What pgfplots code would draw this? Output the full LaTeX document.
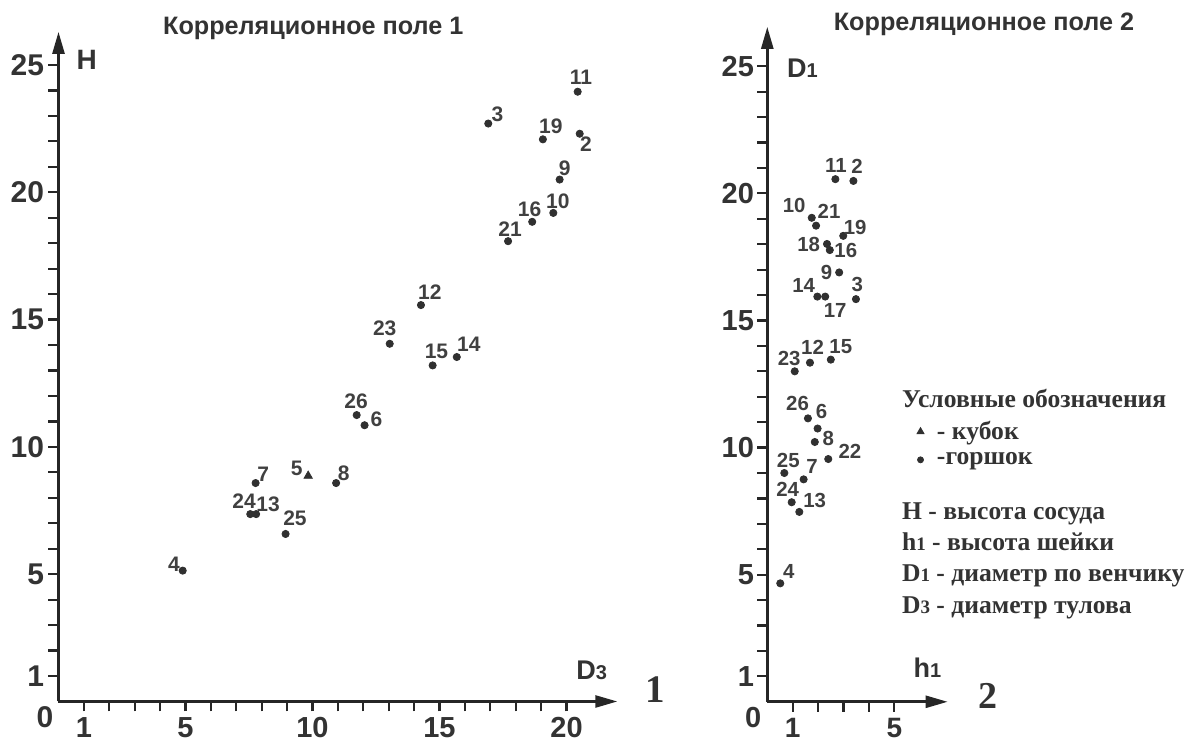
\documentclass[border=0pt]{standalone}
\usepackage{fontspec}
\setmainfont{Liberation Sans}
\newfontfamily\Sserif{Liberation Serif}
\usepackage{pgfplots}
\pgfplotsset{compat=1.18}
\usepackage{pgfplotstable}
\usetikzlibrary{arrows.meta}
\definecolor{axcol}{HTML}{262626}
\definecolor{txt}{HTML}{333333}
\definecolor{lbl}{HTML}{404040}
\definecolor{ptcol}{HTML}{303030}

\pgfplotstableread{
x y lab dx dy
20.44 23.95 11 1.6 7.2
16.92 22.70 3 4.6 4.6
19.07 22.08 19 4.0 6.5
20.52 22.30 2 3.1 -5.2
19.73 20.50 9 2.5 5.8
19.48 19.19 10 2.3 5.7
18.65 18.84 16 -1.3 6.2
17.70 18.08 21 1.0 6.2
14.27 15.57 12 4.4 6.7
13.04 14.05 23 -2.5 7.5
14.73 13.20 15 1.9 7.0
15.68 13.53 14 6.0 6.2
11.74 11.25 26 -0.3 6.7
12.05 10.85 6 6.0 2.8
10.93 8.58 8 3.8 5.0
7.76 8.58 7 3.8 4.2
7.55 7.36 24 -3.1 6.3
7.78 7.36 13 6.0 4.7
8.94 6.58 25 4.7 8.0
4.89 5.14 4 -4.4 3.3
}\potsA

\pgfplotstableread{
x y lab dx dy
9.83 8.86 5 -5.7 3.8
}\cupsA

\pgfplotstableread{
x y lab dx dy
2.68 20.56 11 0.3 6.8
3.39 20.49 2 1.8 7.3
1.75 19.04 10 -8.8 6.0
1.92 18.73 21 6.5 7.3
2.99 18.33 19 6.0 4.0
2.35 18.01 18 -9.2 -0.2
2.46 17.77 16 8.0 -0.3
2.83 16.89 9 -6.3 0.2
1.97 15.94 14 -6.8 5.7
2.28 15.94 17 5.0 -7.0
3.49 15.84 3 0.7 7.3
1.08 13.00 23 -2.8 6.3
1.68 13.34 12 1.3 7.8
2.50 13.46 15 5.0 6.3
1.60 11.15 26 -5.2 7.2
1.98 10.75 6 2.0 8.3
1.87 10.22 8 6.8 1.8
2.40 9.55 22 10.8 3.7
0.67 9.00 25 2.0 6.5
1.43 8.75 7 4.2 6.3
0.96 7.85 24 -2.0 6.5
1.26 7.47 13 7.7 5.5
0.51 4.66 4 4.3 5.8
}\potsB

\pgfplotsset{
  corr/.style={
    axis lines=left,
    ymin=0,
    clip=false,
    axis line style={line width=1.3pt, draw=axcol, -{Triangle[length=11pt,width=6pt]}},
    tick align=outside,
    major tick length=5pt, minor tick length=5pt,
    every tick/.style={line width=1.1pt, draw=axcol},
    ytick={1,5,10,15,20,25},
    yticklabels={1,5,10,15,20,25},
    minor ytick={2,3,4,6,7,8,9,11,12,13,14,16,17,18,19,21,22,23,24},
    /pgf/number format/assume math mode=true,
    tick label style={text=txt, inner sep=0pt},
    every node near coord/.append style={anchor=center, inner sep=0pt, text=lbl,
      xshift=\dx*1pt, yshift=\dy*1pt},
  },
  lbls/.style={
    nodes near coords, point meta=explicit symbolic,
    visualization depends on={\thisrow{dx} \as \dx},
    visualization depends on={\thisrow{dy} \as \dy},
  },
}

\begin{document}
\begin{tikzpicture}
\useasboundingbox (0,0) rectangle (594.5pt,371pt);

% ---------------- field 1 ----------------
\begin{axis}[corr,
  at={(29.25pt,20.25pt)}, anchor=origin,
  x=12.7pt, y=12.73pt, xmin=0, xmax=22.0, ymax=26.3,
  xtick={1,5,10,15,20}, xticklabels={1,5,10,15,20},
  minor xtick={2,3,4,6,7,8,9,11,12,13,14,16,17,18,19},
  tick label style={font=\bfseries\fontsize{15}{15}\selectfont},
  xticklabel style={anchor=north, yshift=-2.8pt, font=\bfseries\fontsize{14.5}{14.5}\selectfont},
  yticklabel style={anchor=east, xshift=-2pt},
  nodes near coords style={font=\bfseries\fontsize{10.5}{10.5}\selectfont},
]
\addplot[only marks, mark=*, mark size=1.8pt, color=ptcol, lbls]
  table[x=x, y=y, meta=lab] {\potsA};
\addplot[only marks, mark=triangle*, mark size=2.4pt, color=ptcol, lbls]
  table[x=x, y=y, meta=lab] {\cupsA};
\node[font=\bfseries\fontsize{15}{15}\selectfont, text=txt] at (axis cs:0,0) [xshift=-6.75pt, yshift=-8pt] {0};
\node[font=\bfseries\fontsize{14}{14}\selectfont, text=txt] at (axis cs:1.11,25.2) {H};
\node[font=\bfseries\fontsize{13.5}{13.5}\selectfont, text=txt, inner sep=0pt] at (axis cs:20.99,1.21) {D{\fontsize{10}{10}\selectfont 3}};
\node[font=\Sserif\bfseries\fontsize{19.5}{19.5}\selectfont, text=txt] at (axis cs:23.51,0.46) {1};
\node[font=\bfseries\fontsize{12.6}{12.6}\selectfont, text=txt] at (axis cs:10.03,26.45) {Корреляционное поле 1};
\end{axis}

% ---------------- field 2 ----------------
\begin{axis}[corr,
  at={(383.65pt,20.1pt)}, anchor=origin,
  x=12.7pt, y=12.71pt, xmin=0, xmax=7.1, ymax=26.55,
  xtick={1,5}, xticklabels={1,5},
  minor xtick={2,3,4},
  tick label style={font=\bfseries\fontsize{14.5}{14.5}\selectfont},
  xticklabel style={anchor=north, yshift=-2.8pt, font=\bfseries\fontsize{14}{14}\selectfont},
  yticklabel style={anchor=east, xshift=-1.5pt},
  nodes near coords style={font=\bfseries\fontsize{10.2}{10.2}\selectfont},
  legend style={at={(axis cs:5.88,11.22)}, anchor=north west, draw=none, fill=none,
    font=\Sserif\bfseries\fontsize{12.8}{12.8}\selectfont, text=txt, row sep=1pt,
    inner sep=0pt, /tikz/every odd column/.append style={column sep=4.5pt}},
  legend cell align=left,
  legend image code/.code={\draw[#1] plot coordinates {(0pt,0pt)};},
]
\addplot[only marks, mark=*, mark size=1.8pt, color=ptcol, lbls, forget plot]
  table[x=x, y=y, meta=lab] {\potsB};
\addlegendimage{only marks, mark=triangle*, mark size=2pt, color=ptcol}
\addlegendentry{- кубок}
\addlegendimage{only marks, mark=*, mark size=1.5pt, color=ptcol}
\addlegendentry{-горшок}
\node[font=\bfseries\fontsize{14.5}{14.5}\selectfont, text=txt] at (axis cs:0,0) [xshift=-7pt, yshift=-8pt] {0};
\node[font=\bfseries\fontsize{13.5}{13.5}\selectfont, text=txt, inner sep=0pt] at (axis cs:1.38,24.92) {D{\fontsize{10}{10}\selectfont 1}};
\node[font=\bfseries\fontsize{13.5}{13.5}\selectfont, text=txt, inner sep=0pt] at (axis cs:6.30,1.34) {h{\fontsize{10}{10}\selectfont 1}};
\node[font=\Sserif\bfseries\fontsize{19}{19}\selectfont, text=txt] at (axis cs:8.7,0.22) {2};
\node[font=\bfseries\fontsize{12.6}{12.6}\selectfont, text=txt] at (axis cs:8.53,26.65) {Корреляционное поле 2};
\begin{scope}[every node/.style={font=\Sserif\bfseries\fontsize{12.8}{12.8}\selectfont, text=txt, anchor=base west, inner sep=0pt}]
\node at (axis cs:5.29,11.56) {Условные обозначения};
\node at (axis cs:5.29,7.18) {H - высота сосуда};
\node at (axis cs:5.29,5.97) {h{\fontsize{9.5}{9.5}\selectfont 1} - высота шейки};
\node at (axis cs:5.29,4.74) {D{\fontsize{9.5}{9.5}\selectfont 1} - диаметр по венчику};
\node at (axis cs:5.29,3.48) {D{\fontsize{9.5}{9.5}\selectfont 3} - диаметр тулова};
\end{scope}
\end{axis}
\end{tikzpicture}
\end{document}
